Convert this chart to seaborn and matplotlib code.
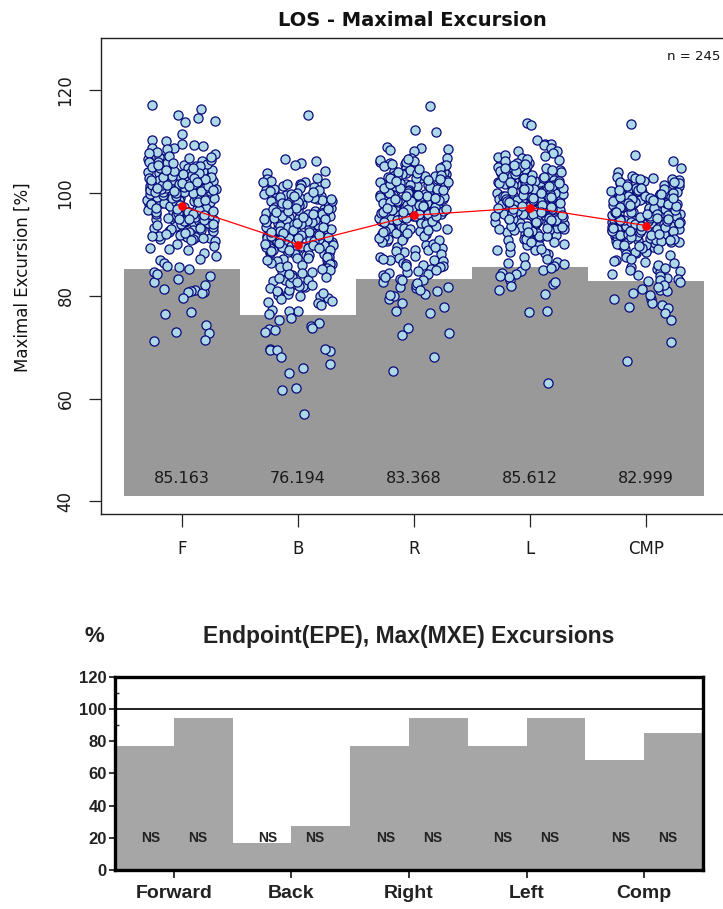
import numpy as np
import pandas as pd
import matplotlib
matplotlib.use("Agg")
import matplotlib.pyplot as plt
import seaborn as sns

# ---------------- data: top chart ----------------
categories = ["F", "B", "R", "L", "CMP"]

f_values = [
    117.1, 116.3, 115.3, 114.6, 114.0, 113.8, 111.5, 110.3, 110.2, 109.6, 109.3, 109.1, 108.8, 108.7, 108.5,
    91.2, 99.4, 95.7, 93.1, 97.8, 96.3, 92.6, 98.9, 94.4, 99.9, 95.0, 91.8, 97.2, 93.9, 96.8, 98.1, 92.3, 94.9, 99.1, 95.5,
    96.0, 93.4, 97.6, 91.5, 98.5, 94.1, 99.6, 92.9, 96.6, 95.2, 97.0, 93.7, 98.3, 91.0, 94.6, 99.3, 96.1, 92.0, 97.4, 95.8,
    98.7, 93.2, 96.9, 94.3, 91.4, 99.0, 95.4, 97.9, 92.7, 96.4, 98.0, 94.8, 93.5, 99.7, 91.9, 97.1, 95.9, 92.4, 98.6, 96.7,
    94.0, 99.2, 93.0, 97.5, 95.1, 91.7, 98.2, 96.2, 92.8, 99.5, 94.5, 97.3, 93.6, 95.6, 98.4, 91.3, 96.5, 99.8, 94.2, 92.1,
    97.7, 95.3, 98.8, 93.8, 96.0, 91.6, 99.0, 94.7, 97.0, 92.5, 98.3, 95.7, 93.3, 96.8, 99.4, 94.9, 97.9, 92.2, 95.0, 98.6,
    93.9, 96.3, 99.6, 91.1, 97.2,
    100.2, 104.7, 101.5, 106.3, 102.8, 100.9, 105.4, 103.1, 107.6, 101.1, 104.0, 102.2, 100.5, 106.9, 103.8, 101.8, 105.0, 102.5, 100.1, 104.4,
    103.3, 107.1, 101.3, 105.8, 102.0, 100.7, 104.2, 103.6, 101.6, 106.0, 102.9, 100.3, 105.2, 103.0, 108.1, 101.9, 104.9, 102.4, 100.8, 103.5,
    106.6, 101.0, 104.5, 102.7, 100.4, 105.6, 103.9, 101.4, 107.9, 102.1, 104.1, 100.6, 103.2, 106.1, 101.7, 105.1, 102.6, 100.0, 104.8, 103.7,
    101.2, 107.3, 102.3, 105.5, 100.9, 103.4, 104.3, 101.5, 106.4, 102.8, 100.2, 105.9, 103.1, 101.8, 104.6, 102.0, 107.0, 100.5, 103.6, 101.3,
    105.3, 102.6, 104.0, 100.7, 106.8, 101.6, 103.0, 102.2, 104.9, 101.0,
    90.6, 89.8, 90.2, 88.9, 89.4, 87.8, 88.3, 90.8, 87.2, 86.9, 89.1, 86.4,
    85.2, 84.6, 83.9, 85.7, 83.2, 82.8, 81.1, 80.7, 80.9, 81.3, 80.5, 84.2, 82.1, 80.8, 85.9,
    79.6, 76.8, 76.5, 74.4, 73.0, 72.8, 71.5, 71.3,
]

b_values = [
    115.2, 106.6, 106.3, 105.8, 105.5, 104.3, 104.0,
    95.3, 89.1, 100.7, 92.4, 97.8, 88.6, 102.1, 93.9, 90.5, 98.4, 94.7, 101.2, 91.3, 96.5, 88.2, 99.6, 93.0, 95.9, 90.1, 102.7,
    94.2, 97.1, 89.7, 100.2, 92.8, 96.0, 91.0, 98.9, 88.9, 95.6, 101.8, 93.5, 90.8, 97.4, 94.9, 99.1, 89.4, 92.0, 96.8, 100.9,
    91.7, 94.4, 98.2, 88.4, 95.1, 102.4, 93.2, 90.3, 97.6, 92.6, 99.8, 89.9, 96.2, 94.0, 101.5, 91.5, 95.8, 88.0, 98.6, 93.7,
    90.0, 97.0, 92.2, 100.4, 94.6, 89.2, 96.7, 91.9, 99.3, 93.3, 95.4, 102.9, 90.6, 97.9, 88.7, 94.1, 98.0, 92.9, 96.3, 101.0,
    89.5, 93.8, 91.2, 99.5, 95.0, 90.9, 97.3, 94.5, 88.3, 100.0, 92.5, 96.6, 91.6, 98.7, 93.1, 95.7, 89.8, 101.3, 94.8, 90.2,
    97.7, 92.1, 99.0, 88.8, 96.1, 93.6, 91.1, 98.3, 95.2, 90.7, 100.6, 94.3, 89.0, 97.5, 92.7, 96.9, 91.8, 99.9, 93.4, 88.1,
    95.5, 102.2, 90.4, 98.1, 94.0, 91.4, 96.4, 89.3, 99.2, 92.3, 97.2, 93.0, 101.7, 90.0, 95.9, 88.5, 98.5, 94.6, 91.3, 96.0,
    92.8, 100.3, 89.6, 97.0, 93.9, 90.8, 99.4, 95.0, 91.9, 94.2, 96.5, 88.9, 98.8, 92.4, 101.9, 93.5, 90.3, 97.8, 95.3, 89.4,
    87.6, 86.2, 87.1, 86.8, 87.4, 86.0, 87.9, 86.5, 87.3, 86.1, 87.0, 86.6, 87.5, 86.3, 86.9,
    85.5, 84.8, 83.1, 82.4, 85.0, 81.7, 80.3, 84.2, 83.7, 79.9, 82.9, 85.7, 81.2, 80.8, 84.5, 83.4, 82.0, 79.6, 85.2, 81.5,
    80.1, 84.0, 83.0, 82.6, 79.4, 85.8, 81.0, 80.6, 84.7, 83.6, 82.2, 81.9, 80.0, 84.3, 82.7,
    79.1, 78.6, 78.2, 77.3, 77.1, 77.0, 76.4, 75.7, 78.9, 75.3,
    74.8, 74.2, 73.8, 73.5, 73.4, 73.0, 69.7, 69.5, 69.3, 69.6, 69.4, 68.2, 66.7, 66.0, 65.0, 62.0, 61.7, 57.1,
]

r_values = [
    116.9, 112.3, 111.9, 108.9, 108.7, 108.6, 108.4, 108.2,
    98.4, 91.2, 103.7, 95.6, 100.9, 89.3, 106.1, 97.0, 93.4, 101.8, 99.2, 104.5, 92.1, 96.3, 88.5, 102.6, 98.9, 94.7, 105.3, 100.1,
    97.5, 90.6, 103.0, 95.1, 99.7, 106.8, 93.0, 101.3, 96.8, 89.9, 104.1, 98.0, 92.7, 100.5, 95.9, 102.9, 97.3, 91.6, 105.7, 99.4,
    94.2, 101.0, 88.9, 103.4, 96.0, 98.7, 92.4, 100.3, 105.0, 97.8, 90.2, 102.2, 95.3, 99.0, 93.8, 104.8, 96.6, 101.6, 91.9, 98.2,
    106.5, 94.5, 100.7, 97.1, 89.6, 103.9, 95.8, 99.9, 92.9, 102.0, 96.5, 104.3, 98.6, 91.0, 100.0, 94.0, 105.5, 97.6, 93.2, 101.5,
    99.1, 88.2, 103.1, 96.2, 100.6, 94.9, 106.9, 98.3, 92.2, 102.4, 97.9, 90.8, 104.6, 95.5, 99.6, 93.6, 101.2, 96.9, 105.9, 98.8,
    91.4, 100.2, 94.4, 103.6, 97.2, 89.0, 102.7, 95.0, 99.3, 106.3, 93.3, 101.9, 96.7, 98.1, 92.6, 104.0, 97.4, 100.8, 95.2, 103.3,
    90.4, 99.5, 94.1, 101.4, 97.7, 105.2, 92.0, 98.5, 100.4, 96.1, 103.8, 93.9, 99.8, 91.7, 102.5, 95.7, 104.9, 97.0, 100.0, 94.8,
    106.0, 98.0, 92.8, 101.1, 96.4, 99.2, 89.5, 103.2, 95.4, 100.9, 97.3, 104.2, 93.1, 98.7, 91.3, 102.1, 96.0, 105.6, 99.0, 94.3,
    100.5, 97.6, 88.7, 103.5, 95.9, 101.7, 98.2, 92.5, 104.7, 96.8, 99.6, 93.7, 102.8, 97.1, 90.9, 100.1, 95.1, 106.6, 98.4, 94.6,
    101.0, 96.3, 99.4, 103.0, 97.5, 92.3, 100.6, 95.6, 98.9, 102.3, 96.6, 99.7,
    87.5, 86.1, 84.7, 87.0, 85.3, 86.8, 84.2, 85.9, 87.3, 86.4, 84.0, 85.6, 86.9, 84.9, 87.7, 85.1, 86.3, 84.4, 85.8, 87.1,
    83.3, 83.0, 82.8, 81.7, 81.5, 81.8, 80.9, 79.4, 78.7, 77.8, 77.0, 76.6, 83.6, 82.2, 80.4, 79.9, 83.1, 82.5, 81.2, 80.1,
    73.8, 72.8, 72.3, 68.1, 65.4,
]

l_values = [
    113.6, 113.3, 110.3, 109.6, 109.5, 109.3, 108.7, 108.3, 108.2, 107.9,
    97.9, 104.2, 92.5, 100.8, 95.3, 106.7, 89.4, 102.1, 98.6, 93.8, 101.4, 96.2, 105.0, 90.7, 99.5, 103.6, 94.1, 97.4, 107.2, 91.9,
    100.3, 96.8, 102.9, 88.6, 98.1, 104.8, 93.2, 99.9, 95.7, 101.7, 97.0, 106.1, 92.0, 103.3, 96.5, 100.0, 89.9, 98.8, 105.5, 94.6,
    102.4, 97.6, 91.1, 100.6, 95.0, 103.9, 99.2, 93.5, 107.0, 96.9, 101.1, 98.3, 90.2, 104.5, 95.9, 102.7, 97.2, 92.8, 100.4, 106.4,
    94.3, 99.6, 88.1, 103.0, 96.0, 101.9, 98.0, 91.5, 105.2, 97.7, 100.1, 93.9, 102.2, 95.4, 99.1, 104.0, 90.5, 98.5, 96.4, 101.2,
    106.9, 94.8, 100.7, 97.1, 92.3, 103.5, 99.7, 95.6, 89.0, 102.6, 98.2, 105.8, 93.0, 100.9, 96.7, 101.5, 97.5, 91.7, 104.3, 99.3,
    94.0, 102.0, 98.9, 88.9, 103.8, 96.1, 100.2, 105.3, 92.6, 97.8, 101.8, 95.1, 99.0, 90.9, 104.7, 98.4, 93.4, 102.5, 96.6, 100.5,
    107.4, 94.5, 99.8, 97.3, 91.3, 103.1, 95.8, 101.0, 98.7, 89.7, 105.9, 96.3, 100.0, 93.6, 102.8, 97.0, 99.4, 104.1, 92.1, 98.1,
    95.2, 101.6, 106.2, 94.9, 100.3, 97.9, 90.0, 103.4, 96.8, 99.5, 92.9, 102.3, 98.6, 105.1, 95.5, 100.6, 93.1, 97.6, 104.6, 99.9,
    91.0, 101.3, 96.0, 98.3, 103.7, 94.2, 100.8, 97.4, 88.4, 102.1, 95.9, 99.2, 106.6, 93.7, 98.0, 101.9, 96.5, 90.4, 104.4, 97.7,
    100.1, 94.7, 102.9, 98.8, 92.4, 99.6, 105.6, 96.2, 101.4, 95.0, 97.1, 103.2, 91.6, 100.4, 98.5, 94.4, 102.0, 96.9, 99.0, 105.4,
    93.3, 101.1, 97.5, 89.2, 103.6, 98.2, 100.9, 95.7, 99.3, 102.6, 96.4, 104.9,
    87.6, 86.6, 86.4, 86.2, 85.8, 85.1, 84.9, 84.5, 84.3, 87.2, 86.0, 85.5,
    83.0, 82.3, 82.8, 80.4, 83.6, 81.9, 83.9, 81.2,
    77.0, 76.9, 63.1,
]

cmp_values = [
    113.4, 107.4, 106.2, 104.8, 104.1,
    95.8, 90.1, 100.4, 93.2, 98.7, 88.3, 102.6, 96.5, 91.7, 99.3, 94.4, 101.8, 89.6, 97.1, 92.8, 103.1, 95.0, 90.9, 98.2, 93.9,
    100.0, 96.9, 88.8, 101.2, 94.0, 97.6, 91.3, 99.8, 95.4, 102.0, 92.2, 98.0, 89.9, 96.1, 100.9, 93.5, 97.9, 90.5, 99.0, 94.8,
    102.9, 95.6, 91.0, 98.4, 93.0, 100.6, 96.3, 88.0, 101.5, 94.6, 97.3, 92.5, 99.6, 95.2, 90.3, 98.9, 93.7, 102.3, 96.7, 91.9,
    100.2, 94.2, 97.0, 89.2, 101.0, 95.9, 92.9, 99.1, 96.0, 103.4, 93.3, 98.5, 90.7, 97.7, 94.9, 100.7, 91.5, 96.4, 99.5, 95.1,
    88.6, 101.7, 93.8, 98.1, 92.0, 97.4, 95.5, 100.1, 90.0, 102.5, 94.1, 96.8, 91.2, 99.9, 93.1, 98.6, 96.2, 89.4, 101.3, 94.5,
    97.8, 92.6, 100.8, 95.3, 90.8, 99.2, 93.6, 102.8, 96.6, 91.6, 98.3, 94.3, 100.3, 97.2, 88.5, 101.9, 95.7, 92.3, 99.4, 96.0,
    93.4, 98.8, 90.2, 97.5, 94.7, 102.1, 91.8, 100.5, 95.0, 96.9, 89.8, 99.7, 93.0, 98.0, 101.1, 92.7, 97.0, 94.0, 100.0, 90.6,
    96.5, 103.0, 92.1, 98.6, 95.8, 99.0, 91.4, 97.3, 94.4, 101.6, 88.1, 96.3, 100.6, 93.9, 98.2, 95.2, 102.4, 90.4, 97.7, 94.8,
    99.5, 92.4, 96.1, 100.9, 93.5, 98.9, 91.1, 95.6, 101.4, 97.1, 89.1, 99.8, 94.2, 96.7, 102.7, 92.9, 98.4, 95.4, 90.0, 100.2,
    97.9, 93.2, 99.3, 96.0, 91.9, 101.0, 94.6, 98.1, 87.5, 95.9, 100.7, 92.0, 97.5, 94.9, 99.1, 96.4, 93.7, 102.2, 90.8, 98.7,
    95.1, 97.6, 92.6,
    87.0, 86.4, 85.7, 84.9, 84.2, 83.5, 82.9, 86.8, 85.2, 84.6, 83.8, 83.1, 86.1, 85.5, 84.0, 83.3, 86.6, 85.0, 82.8, 87.1,
    81.4, 81.2, 80.9, 80.6, 79.4, 79.4, 78.6, 78.3, 77.8, 77.6, 76.7, 75.3, 82.1, 81.7, 80.2,
    71.0, 67.4,
]

bar_values = [85.163, 76.194, 83.368, 85.612, 82.999]
mean_values = [97.5, 90.0, 95.7, 97.2, 93.7]
n_label = "n = 245"

# ---------------- data: bottom chart ----------------
directions = ["Forward", "Back", "Right", "Left", "Comp"]
epe_values = [77.0, 16.5, 77.0, 77.0, 68.5]
mxe_values = [94.5, 27.3, 94.5, 94.5, 85.2]
sig_labels = ["NS", "NS", "NS", "NS", "NS"]

# ---------------- figure ----------------
sns.set_style("white")
plt.rcParams["font.family"] = ["DejaVu Sans"]

W, H = 723, 909
fig = plt.figure(figsize=(W / 100, H / 100), dpi=100)

def box(l, t, r, b):
    return [l / W, 1 - b / H, (r - l) / W, (b - t) / H]

# ---- top chart ----
ax = fig.add_axes(box(101, 38, 723, 514))
all_vals = [f_values, b_values, r_values, l_values, cmp_values]
pts = pd.DataFrame({
    "cat": np.concatenate([[c] * len(v) for c, v in zip(categories, all_vals)]),
    "val": np.concatenate([np.asarray(v, float) for v in all_vals]),
})

bar_base = 41.0
ax.bar(range(len(categories)), np.asarray(bar_values) - bar_base, bottom=bar_base,
       width=1.0, color="#999999", edgecolor="none", zorder=1)
for i, v in enumerate(bar_values):
    ax.text(i, 44.5, f"{v:.3f}", ha="center", va="center", fontsize=11.5, color="#1a1a1a", zorder=2)

np.random.seed(7)
sns.stripplot(data=pts, x="cat", y="val", order=categories, jitter=0.3, size=6.6,
              color="#ADD8E6", edgecolor="#0a0a7a", linewidth=0.9, ax=ax, zorder=3)
sns.pointplot(x=categories, y=mean_values, order=categories, color="red", markers="o",
              markersize=5.5, linewidth=0.9, errorbar=None, ax=ax)
for ln in ax.lines:
    ln.set_zorder(5)

ax.set_xlim(-0.698, 4.664)
ax.set_ylim(37.55, 130.2)
ax.set_yticks([40, 60, 80, 100, 120])
ax.set_yticklabels(["40", "60", "80", "100", "120"], rotation=90, va="center")
ax.set_xticks(range(len(categories)))
ax.set_xticklabels(categories)
ax.set_xlabel("")
ax.set_ylabel("")
ax.tick_params(axis="both", direction="out", length=9, width=0.9, color="#222222",
               labelsize=12, labelcolor="#1a1a1a", bottom=True, left=True)
ax.tick_params(axis="y", pad=10)
ax.tick_params(axis="x", pad=10)
for s in ["left", "bottom", "top"]:
    ax.spines[s].set_visible(True)
    ax.spines[s].set_color("#222222")
    ax.spines[s].set_linewidth(1.0)
ax.spines["right"].set_visible(False)

fig.text(412 / W, 1 - 20 / H, "LOS - Maximal Excursion", ha="center", va="center",
         fontsize=14, fontweight="bold", color="#111111")
fig.text(720 / W, 1 - 56 / H, n_label, ha="right", va="center", fontsize=9.5, color="#111111")
fig.text(23 / W, 1 - 277 / H, "Maximal Excursion [%]", rotation=90, ha="center", va="center",
         fontsize=12, color="#111111")

# ---- bottom chart ----
cond = ["Liberation Sans", "DejaVu Sans"]
ax2 = fig.add_axes(box(115, 676.7, 703, 870))
bars = pd.DataFrame({
    "dir": directions * 2,
    "kind": ["EPE"] * len(directions) + ["MXE"] * len(directions),
    "val": list(epe_values) + list(mxe_values),
})
sns.barplot(data=bars, x="dir", y="val", hue="kind", order=directions, hue_order=["EPE", "MXE"],
            palette=["#a6a6a6", "#a6a6a6"], width=1.0, gap=0, errorbar=None, legend=False,
            edgecolor="none", linewidth=0, ax=ax2, zorder=1)
ax2.axhline(100, color="#111111", lw=1.3, zorder=3)
for i, lab in enumerate(sig_labels):
    for off in (-0.2, 0.2):
        ax2.text(i + off, 20, lab, ha="center", va="center", fontsize=10,
                 family=cond, fontweight="bold", color="#222222", zorder=4)
ax2.set_xlim(-0.5, 4.5)
ax2.set_ylim(0, 120)
ax2.set_yticks(range(0, 121, 20))
ax2.set_yticks(range(10, 120, 20), minor=True)
ax2.set_xticks(range(len(directions)))
ax2.set_xticklabels(directions, family=cond, fontweight="bold", fontsize=14, color="#222222")
for t in ax2.get_yticklabels():
    t.set_family(cond)
    t.set_fontweight("bold")
ax2.set_xlabel("")
ax2.set_ylabel("")
ax2.tick_params(axis="y", which="major", direction="out", length=4, width=1.3, labelsize=12,
                labelcolor="#222222", pad=2, left=True)
ax2.tick_params(axis="y", which="minor", direction="in", length=3, width=1.0, left=True)
ax2.tick_params(axis="x", direction="out", length=6, width=1.3, pad=5, bottom=True)
for s in ax2.spines.values():
    s.set_visible(True)
    s.set_color("#000000")
    s.set_linewidth(2.4)
    s.set_zorder(6)

fig.text(94 / W, 1 - 636 / H, "%", ha="center", va="center", fontsize=16,
         family=cond, fontweight="bold", color="#222222")
fig.text(409 / W, 1 - 636 / H, "Endpoint(EPE), Max(MXE) Excursions", ha="center", va="center",
         fontsize=16.5, family=cond, fontweight="bold", color="#222222")

fig.savefig("out.png", dpi=100)
